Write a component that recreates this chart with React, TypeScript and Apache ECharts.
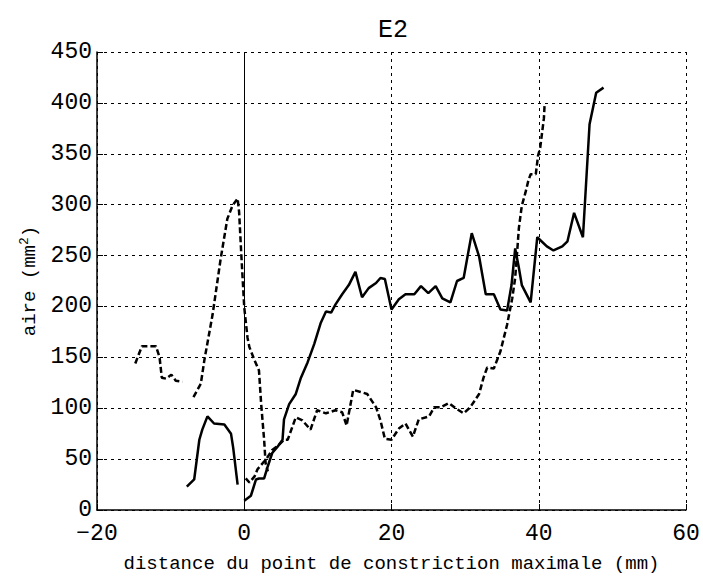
import React, { useEffect, useRef } from "react";
import * as echarts from "echarts";

const xTicks = [-20, 0, 20, 40, 60];
const yTicks = [0, 50, 100, 150, 200, 250, 300, 350, 400, 450];

const dashAX = [-14.8, -13.9, -12.0, -11.5, -11.2, -10.6, -9.9, -9.3, -8.4];
const dashAY = [144, 161, 161, 150, 130, 129, 133, 127, 126];

const dashBX = [-6.9, -5.9, -5.4, -4.3, -3.2, -2.3, -1.6, -0.9, -0.7, -0.4, 0, 0.45, 0.7, 1.4, 2.0, 2.3, 2.7, 2.9, 3.2];
const dashBY = [111, 124, 148, 192, 247, 286, 299, 306, 293, 251, 199, 169, 160, 147, 137, 104, 69, 46, 38];

const dashCX = [0.2, 0.7, 1.4, 1.8, 2.5, 2.9, 3.8, 4.7, 5.4, 5.9, 7.0, 7.9, 9.0, 9.9, 11.1, 12.4, 13.3, 13.9, 14.8, 15.8, 16.7, 17.9, 18.5, 19.1, 20.0, 21.0, 21.9, 22.9, 23.7, 25.1, 25.8, 26.7, 27.8, 28.7, 29.8, 30.7, 31.9, 32.5, 33.0, 33.9, 34.8, 35.7, 36.4, 36.8, 37.1, 37.3, 37.7, 38.2, 38.6, 38.9, 39.6, 39.9, 40.2, 40.7, 40.8];
const dashCY = [31, 27, 33, 40, 46, 49, 59, 64, 69, 69, 91, 88, 79, 98, 95, 98, 96, 83, 118, 116, 114, 101, 88, 70, 69, 80, 85, 72, 89, 92, 101, 101, 105, 100, 95, 101, 114, 130, 140, 139, 156, 182, 208, 228, 257, 277, 299, 312, 324, 330, 330, 348, 356, 385, 399];

const solidAX = [-7.8, -6.8, -6.1, -5.7, -5.0, -4.1, -2.7, -1.8, -1.5, -0.9];
const solidAY = [23, 30, 69, 79, 92, 85, 84, 75, 61, 25];

const solidBX = [0, 0.9, 1.6, 2.0, 2.7, 3.2, 3.8, 4.5, 5.2, 5.4, 6.1, 7.0, 7.7, 8.6, 9.5, 10.4, 11.1, 11.8, 12.4, 13.3, 14.2, 15.1, 16.0, 16.9, 17.9, 18.5, 19.1, 20.0, 21.0, 21.9, 23.1, 24.0, 25.0, 26.0, 26.9, 28.0, 28.9, 29.8, 30.9, 31.9, 32.8, 33.9, 34.8, 35.7, 36.3, 36.8, 37.3, 37.7, 38.9, 39.8, 41.1, 42.0, 43.2, 43.9, 44.8, 46.0, 46.9, 47.8, 48.8];
const solidBY = [9, 14, 30, 31, 31, 43, 56, 62, 69, 89, 104, 114, 130, 145, 163, 184, 195, 194, 202, 212, 221, 234, 209, 218, 223, 228, 227, 197, 207, 212, 212, 220, 213, 220, 208, 204, 225, 228, 272, 249, 212, 212, 197, 196, 221, 257, 238, 221, 204, 268, 259, 255, 259, 264, 292, 268, 379, 410, 415];

const zip = (xs: number[], ys: number[]) => xs.map((x, i) => [x, ys[i]]);

const FONT = "Liberation Mono";

export default function App() {
  const ref = useRef<HTMLDivElement>(null);
  useEffect(() => {
    if (!ref.current) return;
    const chart = echarts.init(ref.current, null, { renderer: "svg" });
    const dashed = { color: "#000", width: 2.5, type: [6, 3] as any };
    const solid = { color: "#000", width: 2.5, type: "solid" as any };
    const mk = (data: number[][], ls: any, extra: any = {}) => ({
      type: "line",
      data,
      showSymbol: false,
      symbol: "none",
      lineStyle: ls,
      z: 3,
      ...extra,
    });
    chart.setOption({
      animation: false,
      backgroundColor: "#fff",
      title: {
        text: "E2",
        left: 388,
        top: 13,
        textAlign: "center",
        textStyle: { fontFamily: FONT, fontSize: 25, fontWeight: "normal", color: "#000" },
      },
      grid: { left: 97, right: 17, top: 52, bottom: 64 },
      xAxis: {
        type: "value",
        min: -20,
        max: 60,
        interval: 20,
        name: "distance du point de constriction maximale (mm)",
        nameLocation: "middle",
        nameGap: 44,
        nameTextStyle: { fontFamily: FONT, fontSize: 19, color: "#000" },
        axisLine: { show: true, onZero: false, lineStyle: { color: "#000", width: 1.5 } },
        axisTick: { show: true, inside: true, length: 6, lineStyle: { color: "#000" } },
        axisLabel: {
          fontFamily: FONT,
          fontSize: 23,
          color: "#000",
          margin: 12,
          formatter: (v: number) => (xTicks.includes(v) ? String(v).replace("-", "\u2212") : ""),
        },
        splitLine: { show: true, lineStyle: { color: "#000", type: [3, 4], width: 1 } },
      },
      yAxis: {
        type: "value",
        min: 0,
        max: 450,
        interval: 50,
        name: "aire (mm{sup|2})",
        nameLocation: "middle",
        nameGap: 56,
        nameTextStyle: {
          fontFamily: FONT,
          fontSize: 19,
          color: "#000",
          rich: { sup: { fontFamily: FONT, fontSize: 13, color: "#000", verticalAlign: "top", padding: [0, 0, 10, 0] } },
        },
        axisLine: { show: true, onZero: false, lineStyle: { color: "#000", width: 1.5 } },
        axisTick: { show: true, inside: true, length: 6, lineStyle: { color: "#000" } },
        axisLabel: {
          fontFamily: FONT,
          fontSize: 23,
          color: "#000",
          margin: 5,
          formatter: (v: number) => (yTicks.includes(v) ? String(v) : ""),
        },
        splitLine: { show: true, lineStyle: { color: "#000", type: [3, 4], width: 1 } },
      },
      series: [
        mk(zip(dashAX, dashAY), dashed),
        mk(zip(dashBX, dashBY), dashed),
        mk(zip(dashCX, dashCY), dashed),
        mk(zip(solidAX, solidAY), solid),
        mk(zip(solidBX, solidBY), solid, {
          markLine: {
            silent: true,
            symbol: "none",
            label: { show: false },
            lineStyle: { color: "#000", width: 1, type: "solid" },
            data: [[{ coord: [0, 0] }, { coord: [0, 450] }]],
          },
        }),
      ],
    });
    return () => chart.dispose();
  }, []);
  return (
    <div
      ref={ref}
      style={{ position: "fixed", left: 0, top: 0, width: 703, height: 578, background: "#fff" }}
    />
  );
}
